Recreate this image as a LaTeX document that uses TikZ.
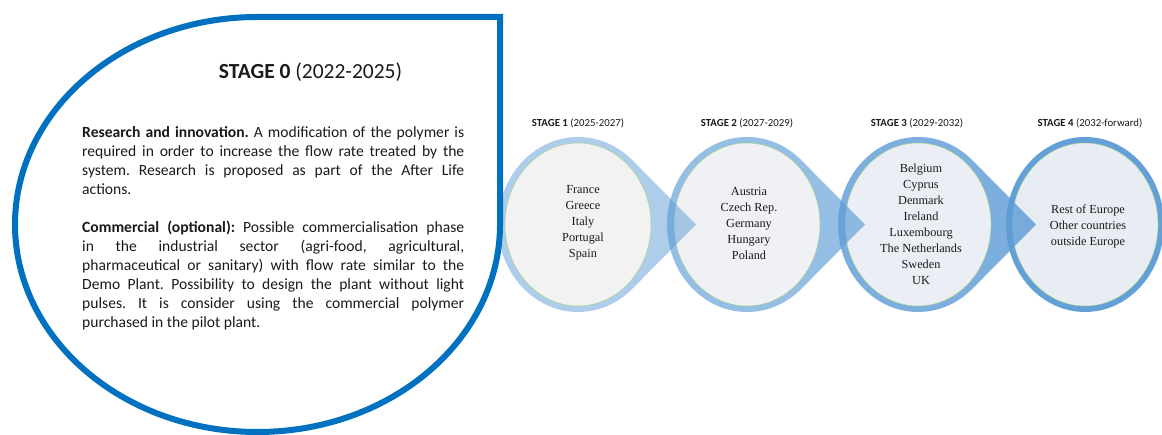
\documentclass[tikz,border=0pt]{standalone}
\usepackage{fontspec}
\setmainfont{Carlito}
\newfontfamily\timesf{Liberation Serif}
\usetikzlibrary{calc}
\frenchspacing
\definecolor{bigblue}{HTML}{0070C0}
\definecolor{ringblue}{HTML}{5B9BD5}
\definecolor{thingreen}{HTML}{A9D18E}
\definecolor{fillA}{HTML}{F2F2F2}
\definecolor{fillB}{HTML}{EFF1F5}
\definecolor{fillC}{HTML}{EBEFF5}
\definecolor{fillD}{HTML}{E8EDF4}
\definecolor{txt}{HTML}{1A1A1A}
\newcommand\drawstage[4]{%
  \ifnum#4=1
    \fill[ringblue, fill opacity=#2] ($(#1)+(54.3pt,64.3pt)$) arc[start angle=47.3, end angle=312.7, x radius=80pt, y radius=87.5pt] -- ($(#1)+(118pt,0pt)$) -- cycle;
  \else
    \fill[ringblue, fill opacity=#2] (#1) ellipse[x radius=79pt, y radius=87.5pt];
  \fi
  \filldraw[fill=#3, draw=thingreen, line width=0.5pt] (#1) ellipse[x radius=73pt, y radius=81.5pt];
}
\tikzset{
  country/.style={font=\timesf\fontsize{12.3}{16}\selectfont, align=center, text=txt, inner sep=0pt},
  stagelbl/.style={font=\fontsize{10.8}{12}\selectfont, anchor=base, text=txt, inner sep=0pt},
  bigshape/.style={draw=bigblue, line width=6pt, line join=miter},
}
\begin{document}
\frenchspacing
\begin{tikzpicture}[x=1pt,y=1pt]
\useasboundingbox (0,0) rectangle (1162,435);
\coordinate (s1) at (578,210.5);
\coordinate (s2) at (747,210.5);
\coordinate (s3) at (918,210.5);
\coordinate (s4) at (1085,210.5);
\drawstage{s4}{0.95}{fillD}{0}
\drawstage{s3}{0.8}{fillC}{1}
\drawstage{s2}{0.65}{fillB}{1}
\drawstage{s1}{0.5}{fillA}{1}
% big teardrop
\draw[bigshape] (500,210.5) -- (500,418) -- (257.5,418)
  arc[start angle=90, end angle=270, x radius=242.5, y radius=207.5]
  arc[start angle=270, end angle=360, x radius=242.5, y radius=207.5] -- cycle;
% texts
\node[anchor=base, font=\fontsize{21.5}{26}\selectfont, text=txt, inner sep=0pt] (t0) at (310.5,356) {\textbf{STAGE 0} (2022-2025)};
\node[anchor=north west, text width=382pt, align=justify, inner sep=0pt, text=txt,
      font=\fontsize{15.6}{19}\selectfont] (p0) at (82,309) {\frenchspacing\hyphenpenalty=10000\exhyphenpenalty=10000
\textbf{Research and innovation.} A modification of the polymer is\linebreak
required in order to increase the flow rate treated by the\linebreak
system. Research is proposed as part of the After Life\linebreak
actions.\par\vskip19pt
\textbf{Commercial (optional):} Possible commercialisation phase\linebreak
in the industrial sector (agri-food, agricultural,\linebreak
pharmaceutical or sanitary) with flow rate similar to the\linebreak
Demo Plant. Possibility to design the plant without light\linebreak
pulses. It is consider using the commercial polymer\linebreak
purchased in the pilot plant.};
\node[stagelbl] (l1) at (578,308) {\textbf{STAGE 1} (2025-2027)};
\node[stagelbl] (l2) at (747,308) {\textbf{STAGE 2} (2027-2029)};
\node[stagelbl] (l3) at (917,308) {\textbf{STAGE 3} (2029-2032)};
\node[stagelbl] (l4) at (1090,308) {\textbf{STAGE 4} (2032-forward)};
\node[country] (c1) at ($(s1)+(5pt,1.5pt)$) {France\\Greece\\Italy\\Portugal\\Spain};
\node[country] (c2) at ($(s2)+(2pt,1.5pt)$) {Austria\\Czech Rep.\\Germany\\Hungary\\Poland};
\node[country] (c3) at ($(s3)+(3pt,0.5pt)$) {Belgium\\Cyprus\\Denmark\\Ireland\\Luxembourg\\The Netherlands\\Sweden\\UK};
\node[country] (c4) at ($(s4)+(3pt,-1.5pt)$) {Rest of Europe\\Other countries\\outside Europe};
\end{tikzpicture}
\end{document}
